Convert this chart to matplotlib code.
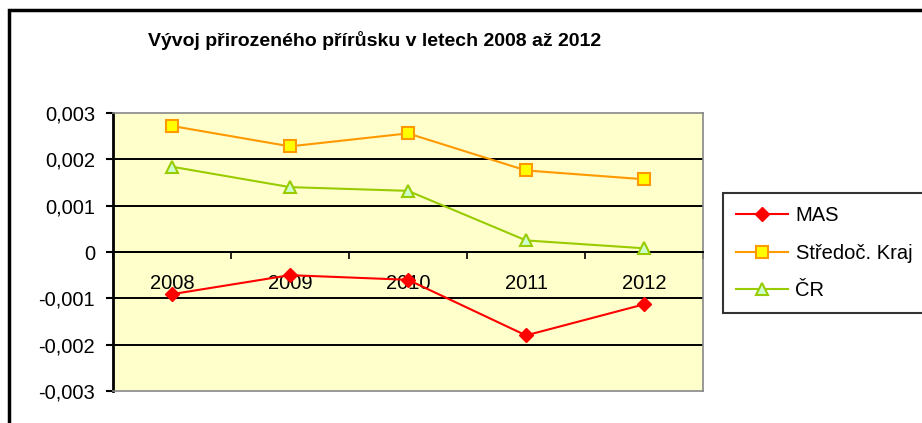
import numpy as np
import matplotlib.pyplot as plt
from matplotlib.patches import Rectangle

years = ["2008", "2009", "2010", "2011", "2012"]
mas = [-0.00091, -0.00050, -0.00060, -0.00180, -0.00113]
stredoc = [0.00272, 0.00228, 0.00256, 0.00176, 0.00157]
cr = [0.00184, 0.00140, 0.00132, 0.00025, 0.00008]
yticks = [-0.003, -0.002, -0.001, 0, 0.001, 0.002, 0.003]
ytick_labels = ["-0,003", "-0,002", "-0,001", "0", "0,001", "0,002", "0,003"]

plt.rcParams['font.family'] = ['Liberation Sans', 'DejaVu Sans']

W, H = 922, 423
fig = plt.figure(figsize=(W / 100, H / 100), dpi=100)

# outer chart frame (clipped at right and bottom like the screenshot)
fig.patches.append(Rectangle((9 / W, -0.1), 1.2, (H - 10) / H + 0.1,
                             transform=fig.transFigure, fill=False,
                             edgecolor='black', linewidth=2.5))

ax = fig.add_axes([113 / W, (H - 391) / H, 590 / W, 278 / H])
ax.set_facecolor('#FFFFCC')

x = np.arange(len(years))
ax.plot(x, mas, color='#FF0000', lw=1.5, marker='D', markersize=7,
        markerfacecolor='#FF0000', markeredgecolor='#FF0000', label='MAS', zorder=4)
ax.plot(x, stredoc, color='#FF9900', lw=1.5, marker='s', markersize=8,
        markerfacecolor='#FFFF00', markeredgecolor='#FF9900', markeredgewidth=1.5,
        label='Středoč. Kraj', zorder=4)
ax.plot(x, cr, color='#99CC00', lw=1.5, marker='^', markersize=9,
        markerfacecolor='#CCFFCC', markeredgecolor='#99CC00', markeredgewidth=1.5,
        label='ČR', zorder=4)

ax.set_xlim(-0.5, len(years) - 0.5)
ax.set_ylim(-0.003, 0.003)

# inner gridlines
for v in yticks[1:-1]:
    ax.axhline(v, color='black', lw=1.4, zorder=2)

for side in ['top', 'right']:
    ax.spines[side].set_color('#888888')
    ax.spines[side].set_linewidth(1.2)
ax.spines['left'].set_color('black')
ax.spines['left'].set_linewidth(2)
ax.spines['bottom'].set_position(('data', 0))
ax.spines['bottom'].set_color('black')
ax.spines['bottom'].set_linewidth(1.4)
ax.axhline(-0.003, color='#888888', lw=1.2, zorder=3, clip_on=False)

ax.set_yticks(yticks)
ax.set_yticklabels(ytick_labels, fontsize=14.5)
ax.tick_params(axis='y', direction='out', length=5, width=1.5, pad=8)

ax.set_xticks(x)
ax.set_xticklabels(years, fontsize=14.5)
ax.set_xticks(np.arange(len(years) + 1) - 0.5, minor=True)
ax.tick_params(axis='x', which='major', length=0, pad=16)
ax.tick_params(axis='x', which='minor', direction='out', length=5, width=1.2)

fig.text(375 / W, 1 - 41 / H, 'Vývoj přirozeného přírůsku v letech 2008 až 2012',
         ha='center', va='center', fontsize=14, fontweight='bold')

leg = fig.legend(loc='upper left', bbox_to_anchor=(723 / W, 1 - 193 / H),
                 fontsize=14.5, frameon=True, fancybox=False, borderpad=0.65,
                 handlelength=2.6, handletextpad=0.35, labelspacing=0.92,
                 borderaxespad=0)
leg.get_frame().set_edgecolor('black')
leg.get_frame().set_linewidth(1.5)

fig.savefig('out.png', dpi=100)
